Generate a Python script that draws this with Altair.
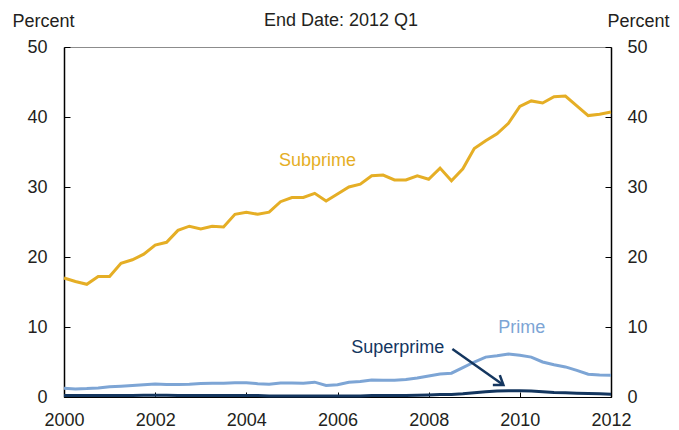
import altair as alt
import pandas as pd

# ---- data ----
quarters = [2000 + 0.25 * i for i in range(49)]  # 2000 Q1 ... 2012 Q1

subprime = [17.0, 16.5, 16.1, 17.2, 17.2, 19.1, 19.6, 20.4, 21.7, 22.1, 23.8, 24.4,
            24.0, 24.4, 24.3, 26.1, 26.4, 26.1, 26.4, 27.9, 28.5, 28.5, 29.1, 28.0,
            29.0, 30.0, 30.4, 31.6, 31.7, 31.0, 31.0, 31.6, 31.1, 32.7, 30.9, 32.6,
            35.5, 36.6, 37.6, 39.1, 41.5, 42.3, 42.0, 42.9, 43.0, 41.6, 40.2, 40.4,
            40.7]
prime = [1.24, 1.15, 1.2, 1.3, 1.45, 1.55, 1.65, 1.75, 1.86, 1.78, 1.78, 1.82,
         1.92, 1.95, 1.98, 2.03, 2.05, 1.9, 1.82, 2.0, 2.0, 1.95, 2.12, 1.65,
         1.75, 2.1, 2.2, 2.43, 2.4, 2.4, 2.5, 2.7, 3.0, 3.3, 3.4, 4.2,
         5.0, 5.7, 5.9, 6.14, 5.95, 5.7, 5.0, 4.6, 4.3, 3.8, 3.25, 3.15,
         3.1]
superprime = [0.2, 0.2, 0.2, 0.2, 0.2, 0.2, 0.2, 0.25, 0.25, 0.25, 0.2, 0.2,
              0.2, 0.2, 0.2, 0.2, 0.2, 0.2, 0.15, 0.15, 0.15, 0.15, 0.15, 0.15,
              0.15, 0.15, 0.15, 0.2, 0.2, 0.2, 0.2, 0.25, 0.3, 0.35, 0.35, 0.45,
              0.6, 0.75, 0.85, 0.9, 0.9, 0.85, 0.75, 0.65, 0.6, 0.55, 0.5, 0.45,
              0.4]

series_names = ["Subprime", "Prime", "Superprime"]
series_colors = ["#E5AE25", "#7DA5D5", "#14365F"]

y_ticks = [0, 10, 20, 30, 40, 50]
x_ticks = [2000, 2002, 2004, 2006, 2008, 2010, 2012]

label_t = [2005.56, 2010.04, 2007.32]
label_v = [33.7, 9.9, 7.0]

arrow_t = [2008.52, 2009.64]
arrow_v = [6.86, 1.71]

title_text = "End Date: 2012 Q1"

# ---- tables ----
rows = []
for name, vals in zip(series_names, [subprime, prime, superprime]):
    for q, v in zip(quarters, vals):
        rows.append({"t": q, "v": v, "series": name})
df = pd.DataFrame(rows)
labels_df = pd.DataFrame({"t": label_t, "v": label_v, "series": series_names})
arrow_df = pd.DataFrame({"t": arrow_t, "v": arrow_v})
head_df = arrow_df.iloc[[1]]

FONT = "Liberation Sans"
FS = 18
W, H = 547, 350

xscale = alt.Scale(domain=[2000, 2012], nice=False, zero=False)
yscale = alt.Scale(domain=[0, 50], nice=False)
cscale = alt.Scale(domain=series_names, range=series_colors)

common_axis = dict(grid=False, labelFont=FONT, labelFontSize=FS, labelColor="#231F20",
                   titleFont=FONT, titleFontSize=FS, titleColor="#231F20",
                   titleFontWeight="normal", labelFlush=False, labelOverlap=False)

lines = alt.Chart(df).mark_line(strokeWidth=3).encode(
    x=alt.X("t:Q", scale=xscale,
            axis=alt.Axis(orient="bottom", values=x_ticks, format="d", ticks=False,
                          domainColor="#000000", domainWidth=1, labelPadding=14,
                          title=None, **common_axis)),
    y=alt.Y("v:Q", scale=yscale,
            axis=alt.Axis(orient="left", values=y_ticks, ticks=False,
                          domainColor="#000000", domainWidth=1.5, labelPadding=17,
                          title="Percent", titleAngle=0, titleX=-52, titleY=-21,
                          titleAlign="left", titleBaseline="alphabetic", **common_axis)),
    color=alt.Color("series:N", scale=cscale, legend=None),
)

ghost = alt.Chart(df).mark_line(opacity=0)

right_axis = ghost.encode(
    x=alt.X("t:Q", scale=xscale, axis=None),
    y=alt.Y("v:Q", scale=yscale,
            axis=alt.Axis(orient="right", values=y_ticks, ticks=False,
                          domainColor="#000000", domainWidth=1.5, labelPadding=16,
                          title="Percent", titleAngle=0, titleX=-4, titleY=-21,
                          titleAlign="left", titleBaseline="alphabetic", **common_axis)),
    detail="series:N",
)

left_ticks = ghost.encode(
    x=alt.X("t:Q", scale=xscale, axis=None),
    y=alt.Y("v:Q", scale=yscale,
            axis=alt.Axis(orient="right", offset=-W, values=y_ticks, labels=False,
                          domain=False, ticks=True, tickSize=6, tickColor="#000000",
                          tickWidth=1, grid=False, title=None)),
    detail="series:N",
)

right_ticks = ghost.encode(
    x=alt.X("t:Q", scale=xscale, axis=None),
    y=alt.Y("v:Q", scale=yscale,
            axis=alt.Axis(orient="left", offset=-W, values=y_ticks, labels=False,
                          domain=False, ticks=True, tickSize=6, tickColor="#000000",
                          tickWidth=1, grid=False, title=None)),
    detail="series:N",
)

bottom_ticks = ghost.encode(
    x=alt.X("t:Q", scale=xscale,
            axis=alt.Axis(orient="top", offset=-H, values=x_ticks, labels=False,
                          domain=False, ticks=True, tickSize=5, tickColor="#000000",
                          tickWidth=1, grid=False, title=None)),
    y=alt.Y("v:Q", scale=yscale, axis=None),
    detail="series:N",
)

labels = alt.Chart(labels_df).mark_text(font=FONT, fontSize=FS, align="center",
                                        baseline="middle").encode(
    x=alt.X("t:Q", scale=xscale, axis=None),
    y=alt.Y("v:Q", scale=yscale, axis=None),
    text="series:N",
    color=alt.Color("series:N", scale=cscale, legend=None),
)

arrow_line = alt.Chart(arrow_df).mark_line(color="#14365F", strokeWidth=2.5).encode(
    x=alt.X("t:Q", scale=xscale, axis=None),
    y=alt.Y("v:Q", scale=yscale, axis=None),
)

arrow_head = alt.Chart(head_df).mark_point(
    shape="M -1 -0.7 L 0 0 L -1 0.7", filled=False, color="#14365F",
    strokeWidth=2.5, size=300, angle=35, opacity=1,
).encode(
    x=alt.X("t:Q", scale=xscale, axis=None),
    y=alt.Y("v:Q", scale=yscale, axis=None),
)

title = alt.Chart(labels_df.iloc[[0]]).mark_text(
    font=FONT, fontSize=FS, align="center", baseline="alphabetic", color="#231F20",
    text=title_text,
).encode(x=alt.value(277), y=alt.value(-21))

chart = alt.layer(
    lines, right_axis, left_ticks, right_ticks, bottom_ticks,
    labels, arrow_line, arrow_head, title,
).resolve_axis(x="independent", y="independent").properties(
    width=W, height=H,
    autosize=alt.AutoSizeParams(type="none"),
    padding={"left": 56, "top": 39, "right": 60, "bottom": 34},
    background="white",
).configure_view(stroke="#8C8C8C", strokeWidth=1)

chart.save("out.html", embed_options={"renderer": "svg", "actions": False})
